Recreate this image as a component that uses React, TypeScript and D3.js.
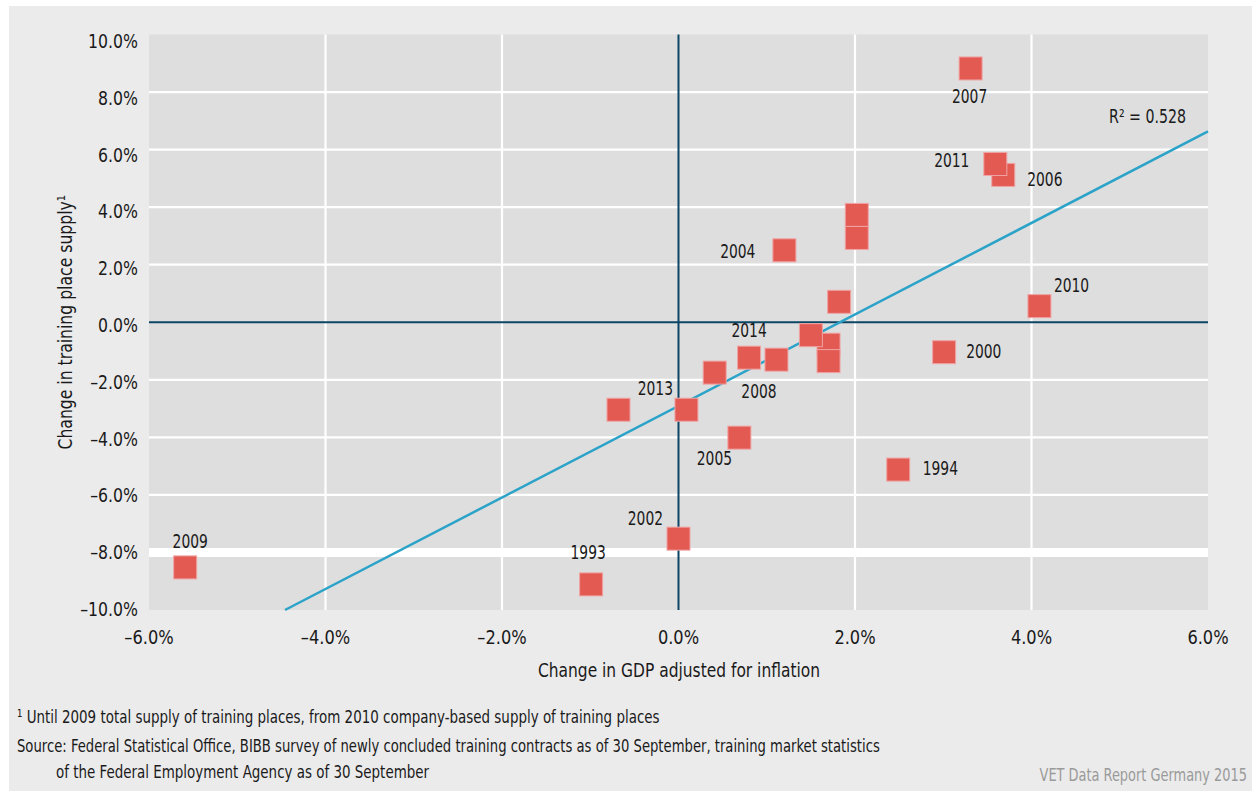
import React, { useRef, useEffect } from 'react';
import * as d3 from 'd3';

// values (GDP change %, training place supply change %)
const years = ["2007", "2006", "2011", "", "", "2004", "2010", "", "", "", "", "2014", "2008", "", "2013", "", "2005", "2000", "1994", "2002", "1993", "2009"];
const gdpChange = [3.31, 3.68, 3.59, 2.02, 2.02, 1.20, 4.09, 1.82, 1.70, 1.50, 1.70, 0.80, 1.11, 0.41, 0.09, -0.68, 0.69, 3.01, 2.49, 0.00, -0.99, -5.59];
const supplyChange = [8.82, 5.12, 5.50, 3.73, 2.93, 2.50, 0.56, 0.71, -0.78, -0.45, -1.35, -1.23, -1.30, -1.75, -3.04, -3.04, -4.01, -1.04, -5.12, -7.52, -9.11, -8.52];

const xTicks = [-6, -4, -2, 0, 2, 4, 6];
const yTicks = [-10, -8, -6, -4, -2, 0, 2, 4, 6, 8, 10];

const trendSlope = 1.59;
const trendIntercept = -2.91;
const rSquared = "0.528";

// label placement next to each square: [dx, dy, anchor]
const labelPlacement = {
  "2007": [-1, 35, "middle"],
  "2011": [-26, 3, "end"],
  "2006": [24, 11.5, "start"],
  "2004": [-29, 8, "end"],
  "2010": [14.5, -14, "start"],
  "2014": [0, -20.5, "middle"],
  "2008": [-17.5, 38.5, "middle"],
  "2013": [-13.5, -14.5, "end"],
  "2005": [-25, 27.5, "middle"],
  "2000": [22, 5.5, "start"],
  "1994": [24.5, 5.5, "start"],
  "2002": [-15.5, -13.5, "end"],
  "1993": [-3, -25.5, "middle"],
  "2009": [5, -19.5, "middle"],
};

// no condensed face with the original's proportions, so squeeze DejaVu Condensed a bit
const FONT = "'DejaVu Sans Condensed', 'DejaVu Sans', sans-serif";
const W = 1252, H = 791;

const at = (px, py, sx) => `translate(${px},${py}) scale(${sx},1)`;

export default function App() {
  const ref = useRef(null);

  useEffect(() => {
    const svg = d3.select(ref.current);
    svg.selectAll("*").remove();

    const x = d3.scaleLinear().domain([-6, 6]).range([149, 1208]);
    const y = d3.scaleLinear().domain([-10, 10]).range([610, 34.5]);
    // tick labels sit a little off the grid in the original
    const yLab = d3.scaleLinear().domain([-10, 10]).range([616, 48]);

    svg.append("rect").attr("x", 9).attr("y", 6).attr("width", W - 9).attr("height", H - 6).attr("fill", "#ebebeb");

    svg.append("rect")
      .attr("x", x(-6)).attr("y", y(10))
      .attr("width", x(6) - x(-6)).attr("height", y(-10) - y(10))
      .attr("fill", "#dedede");

    // grid
    svg.append("g").selectAll("line")
      .data(yTicks.filter(v => v !== 0 && Math.abs(v) !== 10))
      .join("line")
      .attr("x1", x(-6)).attr("x2", x(6))
      .attr("y1", d => y(d)).attr("y2", d => y(d))
      .attr("stroke", "#fff")
      .attr("stroke-width", d => d === -8 ? 9 : 2.2);

    svg.append("g").selectAll("line")
      .data(xTicks.filter(v => v !== 0 && Math.abs(v) !== 6))
      .join("line")
      .attr("x1", d => x(d)).attr("x2", d => x(d))
      .attr("y1", y(10)).attr("y2", y(-10))
      .attr("stroke", "#fff")
      .attr("stroke-width", 2.2);

    // zero lines
    svg.append("line").attr("x1", x(-6)).attr("x2", x(6)).attr("y1", y(0)).attr("y2", y(0))
      .attr("stroke", "#0d4565").attr("stroke-width", 2);
    svg.append("line").attr("x1", x(0)).attr("x2", x(0)).attr("y1", y(10)).attr("y2", y(-10))
      .attr("stroke", "#0d4565").attr("stroke-width", 2);

    // tick labels
    const fmt = d => d3.format(".1f")(d).replace(/^[-\u2212]/, "\u2013") + "%";
    svg.append("g").selectAll("text")
      .data(yTicks)
      .join("text")
      .attr("transform", d => at(138, yLab(d), 0.92))
      .attr("text-anchor", "end")
      .attr("font-family", FONT).attr("font-size", 19).attr("fill", "#1a1a1a")
      .text(fmt);

    svg.append("g").selectAll("text")
      .data(xTicks)
      .join("text")
      .attr("transform", d => at(x(d), 644, 0.95))
      .attr("text-anchor", "middle")
      .attr("font-family", FONT).attr("font-size", 19).attr("fill", "#1a1a1a")
      .text(fmt);

    // axis titles
    svg.append("text")
      .attr("transform", at(679, 677, 0.86))
      .attr("text-anchor", "middle")
      .attr("font-family", FONT).attr("font-size", 20).attr("fill", "#1a1a1a")
      .text("Change in GDP adjusted for inflation");

    svg.append("text")
      .attr("transform", `translate(72,${(y(10) + y(-10)) / 2}) rotate(-90) scale(0.87,1)`)
      .attr("text-anchor", "middle")
      .attr("font-family", FONT).attr("font-size", 20).attr("fill", "#1a1a1a")
      .text("Change in training place supply\u00b9");

    // trend line
    const x0 = (-10 - trendIntercept) / trendSlope;
    svg.append("line")
      .attr("x1", x(x0)).attr("y1", y(-10))
      .attr("x2", x(6)).attr("y2", y(trendSlope * 6 + trendIntercept))
      .attr("stroke", "#2ba3c9").attr("stroke-width", 2.5);

    svg.append("text")
      .attr("transform", at(x(6) - 22, y(trendSlope * 6 + trendIntercept) - 8, 0.83))
      .attr("text-anchor", "end")
      .attr("font-family", FONT).attr("font-size", 19).attr("fill", "#1a1a1a")
      .text(`R\u00b2 = ${rSquared}`);

    // points
    const pts = years.map((yr, i) => ({ yr, gx: gdpChange[i], sy: supplyChange[i] }));
    const size = 23;
    svg.append("g").selectAll("rect")
      .data(pts)
      .join("rect")
      .attr("x", d => x(d.gx) - size / 2)
      .attr("y", d => y(d.sy) - size / 2)
      .attr("width", size).attr("height", size)
      .attr("fill", "#e35a53")
      .attr("stroke", "#f0a3a3").attr("stroke-width", 1);

    svg.append("g").selectAll("text")
      .data(pts.filter(d => d.yr))
      .join("text")
      .attr("transform", d => at(x(d.gx) + labelPlacement[d.yr][0], y(d.sy) + labelPlacement[d.yr][1], 0.81))
      .attr("text-anchor", d => labelPlacement[d.yr][2])
      .attr("font-family", FONT).attr("font-size", 19).attr("fill", "#1a1a1a")
      .text(d => d.yr);

    // notes
    const notes = svg.append("g").attr("font-family", FONT).attr("font-size", 18).attr("fill", "#1a1a1a");
    notes.append("text").attr("transform", at(17, 723, 0.83))
      .text("\u00b9 Until 2009 total supply of training places, from 2010 company-based supply of training places");
    notes.append("text").attr("transform", at(17, 752, 0.815))
      .text("Source: Federal Statistical Office, BIBB survey of newly concluded training contracts as of 30 September, training market statistics");
    notes.append("text").attr("transform", at(56, 778, 0.83))
      .text("of the Federal Employment Agency as of 30 September");

    svg.append("text")
      .attr("transform", at(1247, 781, 0.8))
      .attr("text-anchor", "end")
      .attr("font-family", FONT).attr("font-size", 18).attr("fill", "#9a9a9a")
      .text("VET Data Report Germany 2015");
  }, []);

  return (
    <>
      <style>{"body{margin:0}"}</style>
      <svg ref={ref} width={W} height={H} style={{ display: "block" }}></svg>
    </>
  );
}
